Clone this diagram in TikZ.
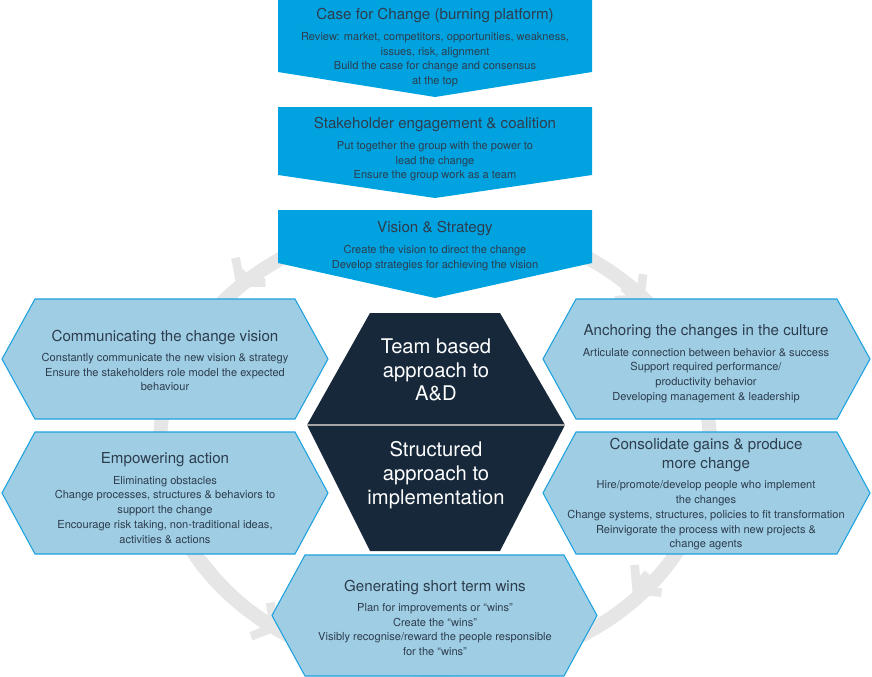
\documentclass[tikz,border=0pt]{standalone}
\usepackage{fontspec}
\setmainfont{TeX Gyre Heros}
\usetikzlibrary{arrows.meta}
\definecolor{stepblue}{HTML}{00A3E0}
\definecolor{hexblue}{HTML}{9FCDE3}
\definecolor{hexedge}{HTML}{1BA1DE}
\definecolor{coredark}{HTML}{16283A}
\definecolor{ringgray}{HTML}{E6E6E6}
\tikzset{
  stepbox/.style={fill=stepblue,draw=none},
  hex/.style={fill=hexblue,draw=hexedge,line width=0.6pt},
  ttl/.style={align=center,font=\fontsize{8.6}{9.6}\selectfont,text=coredark!90},
  body/.style={align=center,font=\fontsize{6.3}{8.4}\selectfont,text=coredark!90},
  ring/.style={draw=ringgray,line width=8pt},
  ringtip/.style={draw=ringgray,line width=8pt,-{Straight Barb[length=9pt,width=22pt,line width=5pt]}}
}
\newcommand{\hexa}[4]{% x1 y1 x2 y2
  \path[hex] ({#1},{(#2+#4)/2}) -- ({#1+33},#2) -- ({#3-33},#2) -- (#3,{(#2+#4)/2})
    -- ({#3-33},#4) -- ({#1+33},#4) -- cycle;}
\begin{document}
\begin{tikzpicture}[x=0.02cm,y=-0.02cm]
\useasboundingbox (0,0) rectangle (872,676);
% ring
\draw[ring] (435,445) ellipse (275 and 225);
\draw[ringtip] (248,274) arc (-142:-146:275 and 225);
\draw[ringtip] (200,560) arc (149.5:125:275 and 225);
\draw[ringtip] (625,285) arc (-43:-37:275 and 225);
\draw[ringtip] (650,575) arc (34:40:275 and 225);
% steps on top
\path[stepbox] (278,0) -- (592,0) -- (592,72) -- (435,97) -- (278,72) -- cycle;
\path[stepbox] (278,107) -- (592,107) -- (592,175) -- (435,198) -- (278,175) -- cycle;
\path[stepbox] (278,210) -- (592,210) -- (592,263) -- (435,298) -- (278,263) -- cycle;
\node[ttl] (caseT) at (435,16) {Case for Change (burning platform)};
\node[body,below=-2pt] (caseB) at (caseT.south) {Review: market, competitors, opportunities, weakness,\\issues, risk, alignment\\Build the case for change and consensus\\at the top};
\node[ttl] (stakeT) at (435,125) {Stakeholder engagement \& coalition};
\node[body,below=-2pt] (stakeB) at (stakeT.south) {Put together the group with the power to\\lead the change\\Ensure the group work as a team};
\node[ttl] (visT) at (435,229) {Vision \& Strategy};
\node[body,below=-2pt] (visB) at (visT.south) {Create the vision to direct the change\\Develop strategies for achieving the vision};
% side hexagons
\hexa{2}{299}{328}{419}
\hexa{2}{432}{328}{554}
\hexa{543}{299}{870}{419}
\hexa{543}{432}{870}{554}
\hexa{272}{555}{597}{676}
\node[ttl] (commT) at (165,337) {Communicating the change vision};
\node[body,below=-2pt] (commB) at (commT.south) {Constantly communicate the new vision \& strategy\\Ensure the stakeholders role model the expected\\behaviour};
\node[ttl] (empT) at (165,460) {Empowering action};
\node[body,below=-2pt] (empB) at (empT.south) {Eliminating obstacles\\Change processes, structures \& behaviors to\\support the change\\Encourage risk taking, non-traditional ideas,\\activities \& actions};
\node[ttl] (ancT) at (706,332) {Anchoring the changes in the culture};
\node[body,below=-2pt] (ancB) at (ancT.south) {Articulate connection between behavior \& success\\Support required performance/\\productivity behavior\\Developing management \& leadership};
\node[ttl,font=\fontsize{8.6}{11}\selectfont] (conT) at (706,455) {Consolidate gains \& produce\\more change};
\node[body,below=-2pt] (conB) at (conT.south) {Hire/promote/develop people who implement\\the changes\\Change systems, structures, policies to fit transformation\\Reinvigorate the process with new projects \&\\change agents};
\node[ttl] (winT) at (435,587) {Generating short term wins};
\node[body,below=-2pt] (winB) at (winT.south) {Plan for improvements or “wins”\\Create the “wins”\\Visibly recognise/reward the people responsible\\for the “wins”};
% core
\path[fill=coredark] (307,425) -- (370,313) -- (500,313) -- (565,425) -- (500,551) -- (370,551) -- cycle;
\draw[gray!70,line width=1pt] (307,425) -- (565,425);
\node[align=center,text=white,font=\fontsize{11.5}{13.5}\selectfont] (team) at (436,370) {Team based\\approach to\\A\&D};
\node[align=center,text=white,font=\fontsize{11.5}{13.5}\selectfont] (struct) at (436,475) {Structured\\approach to\\implementation};
\end{tikzpicture}
\end{document}
